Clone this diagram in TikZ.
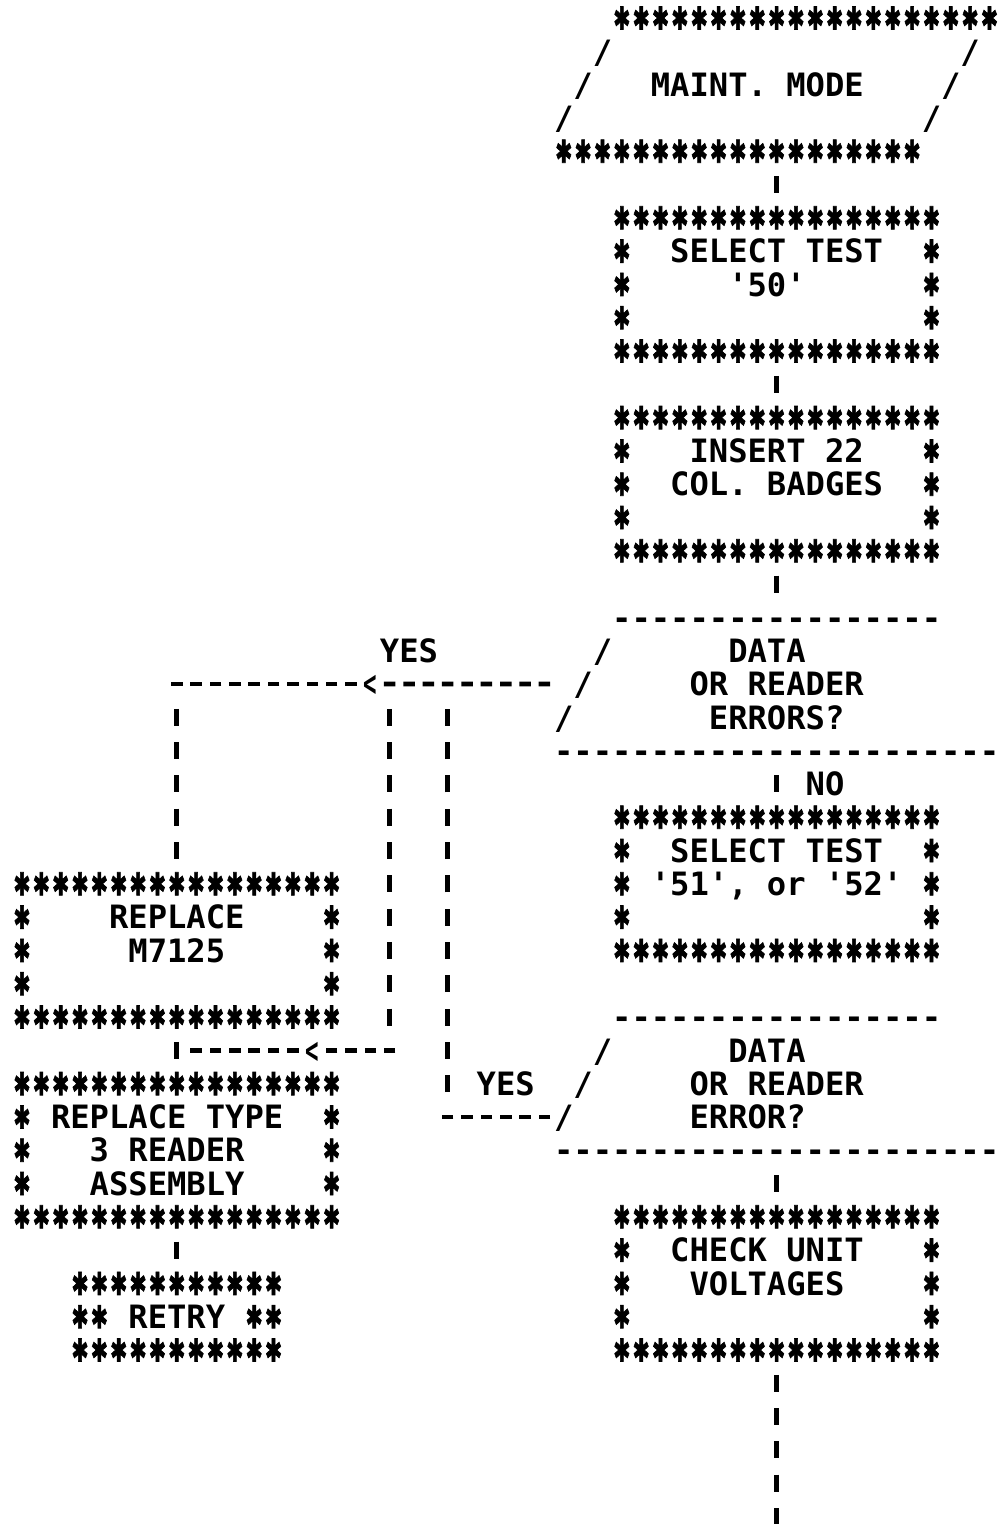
\documentclass[tikz,border=0pt]{standalone}
\usepackage{fontspec}
\usepackage{graphicx}
\setmonofont{DejaVu Sans Mono}
\newfontfamily\astfam{DejaVu Sans}[FakeBold=2.5]
\newdimen\chw \chw=19.35pt
\newcommand\pfont{\ttfamily\bfseries\fontsize{32.14pt}{33.3pt}\selectfont}
\newsavebox\astbox
\sbox\astbox{\resizebox{17pt}{23pt}{\raisebox{\depth}{\astfam ✱}}}
\newcommand\stx{\makebox[\chw]{\raisebox{0.2pt}{\usebox\astbox}}}
\ExplSyntaxOn
\cs_new:Npn \astrow #1 {\prg_replicate:nn{#1}{\stx}}
\ExplSyntaxOff
\newcommand\bl[1]{\kern#1\chw}
\newcommand\rw[1]{\hbox{\rule[-4.94pt]{0pt}{33.3pt}#1}}
\newcommand\bx[1]{\vbox{\offinterlineskip#1}}
\tikzset{
  blk/.style={inner sep=0pt, outer sep=0pt, anchor=north west, font=\pfont},
  lbl/.style={inner sep=0pt, outer sep=0pt, font=\pfont},
  ltn/.style={inner sep=0pt, outer sep=0pt, font=\pfont},
  vcon/.style={line width=4.8pt, dash pattern=on 17pt off 16.3pt, dash phase=25.15pt},
  hcon/.style={line width=4.8pt, dash pattern=on 11.5pt off 7.85pt, dash phase=15.425pt},
}
\begin{document}
\begin{tikzpicture}[x=19.35pt, y=-33.3pt]
\useasboundingbox[fill=white] (-22pt,18pt) rectangle (975pt,-1506pt);

% ---------- nodes ----------
\node[blk] (maint) at (27.5,-0.5) {\bx{%
  \rw{\bl{3}\astrow{20}}%
  \rw{\bl{2}/\bl{18}/\bl{1}}%
  \rw{\bl{1}/\bl{3}MAINT.~MODE\bl{4}/\bl{2}}%
  \rw{/\bl{18}/\bl{3}}%
  \rw{\astrow{19}\bl{4}}}};

\node[blk] (sel50) at (30.5,5.5) {\bx{%
  \rw{\astrow{17}}%
  \rw{\stx\bl{2}SELECT~TEST\bl{2}\stx}%
  \rw{\stx\bl{5}'50'\bl{6}\stx}%
  \rw{\stx\bl{15}\stx}%
  \rw{\astrow{17}}}};

\node[blk] (insert) at (30.5,11.5) {\bx{%
  \rw{\astrow{17}}%
  \rw{\stx\bl{3}INSERT~22\bl{3}\stx}%
  \rw{\stx\bl{2}COL.~BADGES\bl{2}\stx}%
  \rw{\stx\bl{15}\stx}%
  \rw{\astrow{17}}}};

\node[blk] (dec1) at (27.5,17.5) {\bx{%
  \rw{\bl{3}-----------------\bl{3}}%
  \rw{\bl{2}/\bl{6}DATA\bl{10}}%
  \rw{\bl{1}/\bl{5}OR~READER\bl{7}}%
  \rw{/\bl{7}ERRORS?\bl{8}}%
  \rw{-----------------------}}};

\node[blk] (sel51) at (30.5,23.5) {\bx{%
  \rw{\astrow{17}}%
  \rw{\stx\bl{2}SELECT~TEST\bl{2}\stx}%
  \rw{\stx~'51',~or~'52'~\stx}%
  \rw{\stx\bl{15}\stx}%
  \rw{\astrow{17}}}};

\node[blk] (repl) at (-0.5,25.5) {\bx{%
  \rw{\astrow{17}}%
  \rw{\stx\bl{4}REPLACE\bl{4}\stx}%
  \rw{\stx\bl{5}M7125\bl{5}\stx}%
  \rw{\stx\bl{15}\stx}%
  \rw{\astrow{17}}}};

\node[blk] (dec2) at (27.5,29.5) {\bx{%
  \rw{\bl{3}-----------------\bl{3}}%
  \rw{\bl{2}/\bl{6}DATA\bl{10}}%
  \rw{\bl{1}/\bl{5}OR~READER\bl{7}}%
  \rw{/\bl{6}ERROR?\bl{10}}%
  \rw{-----------------------}}};

\node[blk] (reader) at (-0.5,31.5) {\bx{%
  \rw{\astrow{17}}%
  \rw{\stx~REPLACE~TYPE\bl{2}\stx}%
  \rw{\stx\bl{3}3~READER\bl{4}\stx}%
  \rw{\stx\bl{3}ASSEMBLY\bl{4}\stx}%
  \rw{\astrow{17}}}};

\node[blk] (check) at (30.5,35.5) {\bx{%
  \rw{\astrow{17}}%
  \rw{\stx\bl{2}CHECK~UNIT\bl{3}\stx}%
  \rw{\stx\bl{3}VOLTAGES\bl{4}\stx}%
  \rw{\stx\bl{15}\stx}%
  \rw{\astrow{17}}}};

\node[blk] (retry) at (2.5,37.5) {\bx{%
  \rw{\astrow{11}}%
  \rw{\stx\stx~RETRY~\stx\stx}%
  \rw{\astrow{11}}}};

% labels and arrow glyphs
\node[lbl] (yes1) at (20,19) {\rw{YES}};
\node[lbl] (no1) at (41.5,23) {\rw{NO}};
\node[lbl] (yes2) at (25,32) {\rw{YES}};
\node[ltn] (lt1) at (18,20) {\rw{\makebox[\chw]{\raisebox{-1pt}{\scalebox{0.7}[1.15]{<}}}}};
\node[ltn] (lt2) at (15,31) {\rw{\makebox[\chw]{\raisebox{-1pt}{\scalebox{0.7}[1.15]{<}}}}};

% junction coordinates
\coordinate (j1) at (7.5,20);
\coordinate (j1v) at (8,20.5);
\coordinate (j2) at (19,20.5);
\coordinate (j3) at (19,30.5);
\coordinate (j4) at (19.5,31);
\coordinate (j5) at (8.5,31);
\coordinate (d2y) at (27.5,33);
\coordinate (j7) at (21.5,33);
\coordinate (j8) at (22,32.5);
\coordinate (j9) at (22,20.5);
\coordinate (endc) at (39,45.5);

% ---------- connectors ----------
\draw[vcon] (sel50.north |- maint.south) -- (sel50.north);
\draw[vcon] (sel50.south) -- (insert.north);
\draw[vcon] (insert.south) -- (insert.south |- dec1.north);
\draw[vcon] (sel51.north |- dec1.south) -- (sel51.north);

\draw[hcon] (dec1.west) -- (lt1.east);
\draw[hcon] (lt1.west) -- (j1);
\draw[vcon] (j1v) -- (repl.north);

\draw[vcon] (j2) -- (j3);
\draw[hcon] (j4) -- (lt2.east);
\draw[hcon] (lt2.west) -- (j5);

\draw[vcon] (repl.south) -- (reader.north);
\draw[vcon] (reader.south) -- (retry.north);

\draw[hcon] (d2y) -- (j7);
\draw[vcon] (j8) -- (j9);

\draw[vcon] (check.north |- dec2.south) -- (check.north);
\draw[vcon] (check.south) -- (endc);
\end{tikzpicture}
\end{document}
